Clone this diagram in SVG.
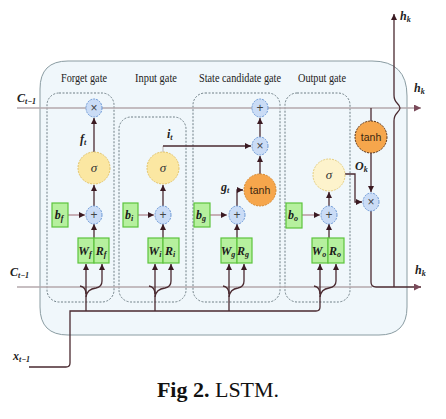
<svg xmlns="http://www.w3.org/2000/svg" width="446" height="419" viewBox="0 0 446 419">
<style>
.lbl{font-family:"Liberation Serif",serif;font-size:12.5px;fill:#222}
.var{font-family:"Liberation Serif",serif;font-style:italic;font-weight:bold;font-size:12px;fill:#222}
.sub{font-size:8px}
.gate{fill:none;stroke:#6f7f86;stroke-width:1;stroke-dasharray:2 1.5}
.op{fill:#cadcf6;stroke:#6b98d6;stroke-width:1;stroke-dasharray:2 1}
.opt{font-family:"Liberation Sans",sans-serif;font-size:12px;fill:#444;text-anchor:middle}
.sig{fill:#fbe7a2;stroke:#e3c46a;stroke-width:1;stroke-dasharray:2 1}
.sigt{font-family:"Liberation Serif",serif;font-style:italic;font-size:13px;fill:#333;text-anchor:middle}
.tanh{fill:#f6a64c;stroke:#d88a30;stroke-width:1;stroke-dasharray:2 1}
.tanht{font-family:"Liberation Sans",sans-serif;font-size:10.5px;fill:#3a2510;text-anchor:middle}
.box{fill:#b6f09e;stroke:#5cc43c;stroke-width:1.2}
.bt{font-family:"Liberation Serif",serif;font-style:italic;font-weight:bold;font-size:12px;fill:#1a1a1a;text-anchor:middle}
.dk{fill:none;stroke:#4a2a30;stroke-width:1.3}
.pk{fill:none;stroke:#b08890;stroke-width:1.3}
.gr{fill:none;stroke:#b4a8ac;stroke-width:1.3}
</style>
<defs>
<marker id="a" viewBox="0 0 6 6" refX="6" refY="3" markerWidth="6" markerHeight="6" markerUnits="userSpaceOnUse" orient="auto"><path d="M0,0 L6,3 L0,6 z" fill="#3a1a22"/></marker>
<marker id="ap" viewBox="0 0 6 6" refX="6" refY="3" markerWidth="7" markerHeight="7" markerUnits="userSpaceOnUse" orient="auto"><path d="M0,0 L6,3 L0,6 z" fill="#7a4a5a"/></marker>
</defs>
<rect width="446" height="419" fill="#fff"/>
<g id="cell">
<path d="M68,61 H372 Q407,61 407,96 V307 Q407,335 379,335 H68 Q40,335 40,307 V89 Q40,61 68,61 Z" fill="#f0f7fb" stroke="#8a9ca2" stroke-width="1"/>
</g>
<g id="gates">
<rect class="gate" x="47" y="93" width="67" height="209" rx="12"/>
<rect class="gate" x="119" y="117" width="67" height="185" rx="12"/>
<rect class="gate" x="193" y="93" width="87" height="209" rx="12"/>
<rect class="gate" x="285" y="93" width="65" height="209" rx="12"/>
<text class="lbl" x="84" y="82" text-anchor="middle" textLength="46" lengthAdjust="spacingAndGlyphs">Forget gate</text>
<text class="lbl" x="156" y="82" text-anchor="middle" textLength="42" lengthAdjust="spacingAndGlyphs">Input gate</text>
<text class="lbl" x="240" y="82" text-anchor="middle" textLength="82" lengthAdjust="spacingAndGlyphs">State candidate gate</text>
<text class="lbl" x="322" y="82" text-anchor="middle" textLength="48" lengthAdjust="spacingAndGlyphs">Output gate</text>
</g>
<g id="connectors">
<path class="gr" d="M17,108 H421" marker-end="url(#ap)"/>
<path class="gr" d="M17,287 H372"/>
<path class="dk" d="M29,367 H66 Q70,367 70,363 V311 H316 Q320,311 320,307 V264" marker-end="url(#a)"/>
<path class="dk" d="M86,311 V264" marker-end="url(#a)"/>
<path class="dk" d="M80,286 Q86,287 86,294 M86,297 Q87,289 96,288 Q102,287 102,281 V264" marker-end="url(#a)"/>
<path class="dk" d="M94,238 V224" marker-end="url(#a)"/>
<path class="pk" d="M68,215 H85" marker-end="url(#a)"/>
<path class="dk" d="M94,206 V185" marker-end="url(#a)"/>
<path class="dk" d="M94,152 V118" marker-end="url(#a)"/>
<path class="dk" d="M155,311 V264" marker-end="url(#a)"/>
<path class="dk" d="M149,286 Q155,287 155,294 M155,297 Q156,289 165,288 Q171,287 171,281 V264" marker-end="url(#a)"/>
<path class="dk" d="M163,238 V224" marker-end="url(#a)"/>
<path class="pk" d="M138,215 H154" marker-end="url(#a)"/>
<path class="dk" d="M163,206 V185" marker-end="url(#a)"/>
<path d="M163,152 V146" fill="none" stroke="#c8c0c0" stroke-width="1.2"/>
<path class="dk" d="M163,146 H251" marker-end="url(#a)"/>
<path class="dk" d="M229,311 V264" marker-end="url(#a)"/>
<path class="dk" d="M223,286 Q229,287 229,294 M229,297 Q230,289 238,288 Q244,287 244,281 V264" marker-end="url(#a)"/>
<path class="dk" d="M237,238 V224" marker-end="url(#a)"/>
<path class="pk" d="M210,215 H227" marker-end="url(#a)"/>
<path class="dk" d="M237,206 V190 H243" marker-end="url(#a)"/>
<path class="dk" d="M260,174 V156" marker-end="url(#a)"/>
<path class="dk" d="M260,137 V118" marker-end="url(#a)"/>
<path class="dk" d="M314,286 Q320,287 320,294 M320,297 Q321,289 329,288 Q336,287 336,281 V264" marker-end="url(#a)"/>
<path class="dk" d="M329,238 V224" marker-end="url(#a)"/>
<path class="pk" d="M302,215 H320" marker-end="url(#a)"/>
<path class="dk" d="M329,206 V192" marker-end="url(#a)"/>
<path class="dk" d="M345,174 H355 V202 H362" marker-end="url(#a)"/>
<path class="dk" d="M371,108 V121"/>
<path class="dk" d="M371,153 V192" marker-end="url(#a)"/>
<path class="dk" d="M371,211 V282 Q371,287 376,287 H421" marker-end="url(#ap)"/>
<path class="dk" d="M394,287 V121 Q394,116 397,113 Q400,110 400,108 Q400,106 397,103 Q394,100 394,95 V14" marker-end="url(#a)"/>
</g>
<g id="forget-nodes">
<ellipse class="op" cx="94" cy="108" rx="8" ry="9"/><text class="opt" x="94" y="112">×</text>
<ellipse class="sig" cx="94" cy="168" rx="16" ry="16"/><text class="sigt" x="94" y="172">σ</text>
<ellipse class="op" cx="94" cy="215" rx="8" ry="9"/><text class="opt" x="94" y="219">+</text>
<rect class="box" x="52" y="203" width="16" height="24"/><text class="bt" x="59" y="219">b<tspan class="sub" dy="2">f</tspan></text>
<rect class="box" x="78" y="238" width="16" height="25"/><text class="bt" x="85" y="255">W<tspan class="sub" dy="2">f</tspan></text>
<rect class="box" x="94" y="238" width="15" height="25"/><text class="bt" x="101" y="255">R<tspan class="sub" dy="2">f</tspan></text>
<text class="var" x="80" y="143">f<tspan class="sub" dy="2">t</tspan></text>
</g>
<g id="input-nodes">
<ellipse class="sig" cx="163" cy="168" rx="16" ry="16"/><text class="sigt" x="163" y="172">σ</text>
<ellipse class="op" cx="163" cy="215" rx="8" ry="9"/><text class="opt" x="163" y="219">+</text>
<rect class="box" x="123" y="203" width="15" height="24"/><text class="bt" x="129" y="219">b<tspan class="sub" dy="2">i</tspan></text>
<rect class="box" x="148" y="238" width="15" height="25"/><text class="bt" x="155" y="255">W<tspan class="sub" dy="2">i</tspan></text>
<rect class="box" x="163" y="238" width="16" height="25"/><text class="bt" x="170" y="255">R<tspan class="sub" dy="2">i</tspan></text>
<text class="var" x="167" y="138">i<tspan class="sub" dy="2">t</tspan></text>
</g>
<g id="state-nodes">
<ellipse class="op" cx="260" cy="108" rx="8" ry="9"/><text class="opt" x="260" y="112">+</text>
<ellipse class="op" cx="260" cy="146" rx="8" ry="9"/><text class="opt" x="260" y="150">×</text>
<ellipse class="tanh" cx="260" cy="190" rx="16" ry="16"/><text class="tanht" x="260" y="194">tanh</text>
<ellipse class="op" cx="237" cy="215" rx="8" ry="9"/><text class="opt" x="237" y="219">+</text>
<rect class="box" x="194" y="203" width="16" height="24"/><text class="bt" x="201" y="219">b<tspan class="sub" dy="2">g</tspan></text>
<rect class="box" x="221" y="238" width="16" height="25"/><text class="bt" x="228" y="255">W<tspan class="sub" dy="2">g</tspan></text>
<rect class="box" x="237" y="238" width="15" height="25"/><text class="bt" x="243" y="255">R<tspan class="sub" dy="2">g</tspan></text>
<text class="var" x="221" y="191">g<tspan class="sub" dy="2">t</tspan></text>
</g>
<g id="output-nodes">
<ellipse cx="329" cy="175" rx="16" ry="16" fill="#fdf3cc" stroke="#e6cf80" stroke-width="1" stroke-dasharray="2 1"/><text class="sigt" x="329" y="179">σ</text>
<ellipse class="op" cx="329" cy="215" rx="8" ry="9"/><text class="opt" x="329" y="219">+</text>
<rect class="box" x="286" y="203" width="16" height="25"/><text class="bt" x="293" y="219">b<tspan class="sub" dy="2">o</tspan></text>
<rect class="box" x="312" y="238" width="16" height="25"/><text class="bt" x="319" y="255">W<tspan class="sub" dy="2">o</tspan></text>
<rect class="box" x="328" y="238" width="16" height="25"/><text class="bt" x="335" y="255">R<tspan class="sub" dy="2">o</tspan></text>
<text class="var" x="355" y="170">O<tspan class="sub" dy="2">k</tspan></text>
</g>
<g id="output-tanh">
<ellipse cx="371" cy="137" rx="16" ry="16" fill="#f6a64c" stroke="#5a3418" stroke-width="1" stroke-dasharray="2 1"/><text class="tanht" x="371" y="141">tanh</text>
<ellipse class="op" cx="371" cy="202" rx="8" ry="9"/><text class="opt" x="371" y="206">×</text>
</g>
<g id="labels">
<text class="var" x="17" y="102" font-weight="normal">C<tspan class="sub" dy="2">t−1</tspan></text>
<text class="var" x="10" y="276" font-weight="normal">C<tspan class="sub" dy="2">t−1</tspan></text>
<text class="var" x="13" y="360" font-weight="normal">x<tspan class="sub" dy="2">t−1</tspan></text>
<text class="var" x="400" y="20">h<tspan class="sub" dy="2">k</tspan></text>
<text class="var" x="414" y="92">h<tspan class="sub" dy="2">k</tspan></text>
<text class="var" x="415" y="274">h<tspan class="sub" dy="2">k</tspan></text>
</g>
<g id="caption">
<text x="218" y="397" text-anchor="middle" font-family="Liberation Serif, serif" font-size="22" fill="#111"><tspan font-weight="bold">Fig 2.</tspan> LSTM.</text>
</g>
</svg>
